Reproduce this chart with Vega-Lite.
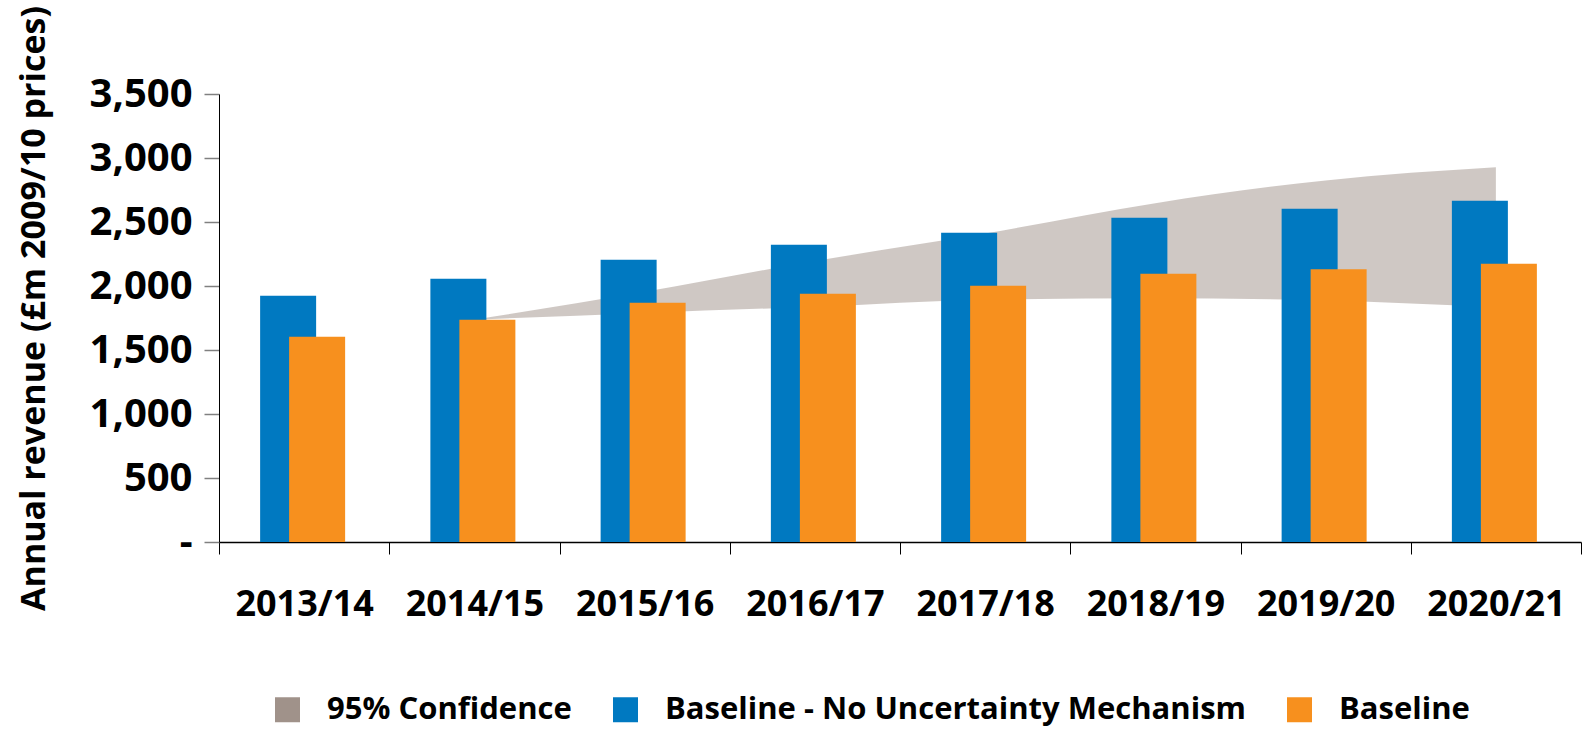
{
  "$schema": "https://vega.github.io/schema/vega-lite/v6.json",
  "autosize": {"type": "none"},
  "padding": {"left": 219, "top": 94, "right": 10, "bottom": 188},
  "width": 1362,
  "height": 448,
  "background": "white",
  "config": {
    "font": "Open Sans",
    "view": {"stroke": null},
    "axis": {"labelFont": "Open Sans", "titleFont": "Open Sans"}
  },
  "data": {
    "values": [
      {"year": "2013/14", "nomech": 1924, "base": 1604, "lo": null, "hi": null},
      {"year": "2014/15", "nomech": 2057, "base": 1737, "lo": 1737, "hi": 1737},
      {"year": "2015/16", "nomech": 2205, "base": 1869, "lo": 1790, "hi": 1955},
      {"year": "2016/17", "nomech": 2323, "base": 1940, "lo": 1838, "hi": 2195},
      {"year": "2017/18", "nomech": 2416, "base": 2002, "lo": 1893, "hi": 2410},
      {"year": "2018/19", "nomech": 2534, "base": 2096, "lo": 1905, "hi": 2647},
      {"year": "2019/20", "nomech": 2604, "base": 2130, "lo": 1887, "hi": 2825},
      {"year": "2020/21", "nomech": 2666, "base": 2174, "lo": 1835, "hi": 2927}
    ]
  },
  "encoding": {
    "x": {
      "field": "year",
      "type": "nominal",
      "sort": null,
      "scale": {"paddingInner": 0, "paddingOuter": 0},
      "axis": {
        "title": null,
        "labelAngle": 0,
        "labelFontSize": 36,
        "labelFontWeight": "bold",
        "labelColor": "black",
        "labelPadding": 33,
        "tickSize": 12,
        "tickColor": "black",
        "tickBand": "extent",
        "domainColor": "black",
        "domainWidth": 1.5
      }
    }
  },
  "layer": [
    {
      "mark": {"type": "area", "interpolate": "monotone", "fillOpacity": 0.5},
      "encoding": {
        "x": {"field": "year", "type": "nominal", "sort": null, "bandPosition": 0.5},
        "y": {"field": "lo", "type": "quantitative"},
        "y2": {"field": "hi"},
        "color": {"datum": "95% Confidence"}
      }
    },
    {
      "mark": {"type": "bar", "width": 56, "xOffset": -16},
      "encoding": {
        "y": {
          "field": "nomech",
          "type": "quantitative",
          "scale": {"domain": [0, 3500], "nice": false},
          "axis": {
            "title": "Annual revenue (£m 2009/10 prices)",
            "titleFontSize": 34,
            "titleFontWeight": "bold",
            "titleColor": "black",
            "titleAngle": -90,
            "titleX": -185,
            "titleY": 214,
            "titleAlign": "center",
            "titleBaseline": "middle",
            "values": [0, 500, 1000, 1500, 2000, 2500, 3000, 3500],
            "labelExpr": "datum.value == 0 ? '-' : format(datum.value, ',')",
            "labelFontSize": 40,
            "labelFontWeight": "bold",
            "labelColor": "black",
            "labelPadding": 12,
            "tickSize": 15,
            "tickColor": "#808080",
            "tickWidth": 1.5,
            "domainColor": "black",
            "grid": false
          }
        },
        "color": {
          "datum": "Baseline - No Uncertainty Mechanism",
          "scale": {
            "domain": ["95% Confidence", "Baseline - No Uncertainty Mechanism", "Baseline"],
            "range": ["#a0928a", "#0079c1", "#f7901e"]
          },
          "legend": {
            "title": null,
            "orient": "none",
            "direction": "horizontal",
            "legendX": 53,
            "legendY": 600,
            "padding": 0,
            "symbolType": "square",
            "symbolSize": 625,
            "symbolOpacity": 1,
            "symbolStrokeWidth": 0,
            "labelFontSize": 31,
            "labelFontWeight": "bold",
            "labelColor": "black",
            "labelOffset": 24,
            "labelLimit": 0,
            "columnPadding": 38
          }
        }
      }
    },
    {
      "mark": {"type": "bar", "width": 56, "xOffset": 13},
      "encoding": {
        "y": {"field": "base", "type": "quantitative"},
        "color": {"datum": "Baseline"}
      }
    }
  ]
}
